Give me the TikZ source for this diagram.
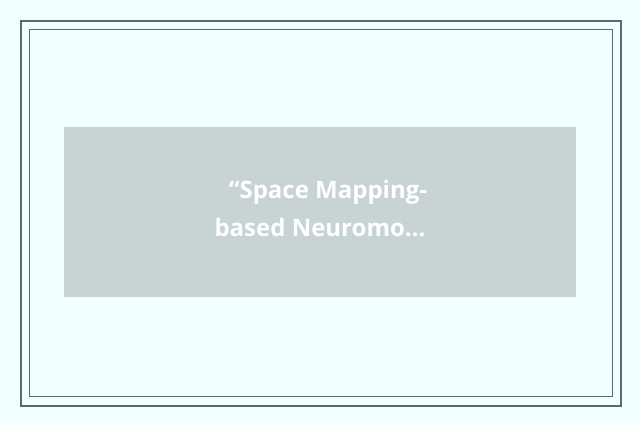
\documentclass[tikz,border=0pt]{standalone}
\usepackage{fontspec}
\setmainfont{Open Sans}
\definecolor{myAzure}{RGB}{240, 255, 255}
\definecolor{myFrame}{RGB}{86, 107, 107}
\definecolor{myGrey}{RGB}{200, 212, 212}
\begin{document}
\begin{tikzpicture}[x=1pt, y=-1pt]
			\fill[myAzure] (0,0) rectangle (640,425);
			\useasboundingbox (0,0) rectangle (640,425);
			\draw[myFrame, line width=2pt] (21,21) rectangle (621,406);
			\draw[myFrame, line width=1pt] (29.5,29.5) rectangle (612.5,396.5);
			\draw (64,127) node[fill=myGrey, anchor=north west, minimum width=512pt, minimum height=170pt, inner sep=0pt] (box) {};
			\draw (328,198) node[anchor=base, text=white, font=\fontsize{24}{29}\selectfont\bfseries] (top) {“Space Mapping-};
			\draw (320,236) node[anchor=base, text=white, font=\fontsize{24}{29}\selectfont\bfseries] (bottom) {based Neuromo…};
		\end{tikzpicture}
\end{document}
